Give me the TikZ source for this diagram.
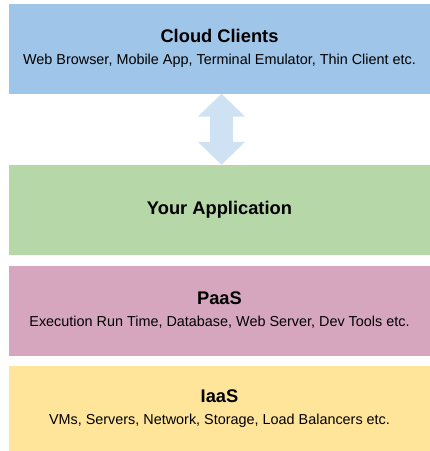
\documentclass[tikz,border=0pt]{standalone}
\usepackage{fontspec}
\setmainfont{Liberation Sans}
\usepackage{xcolor}
\usepackage{tikz}
\usetikzlibrary{arrows.meta}

\definecolor{clientblue}{HTML}{9FC5E8}
\definecolor{arrowblue}{HTML}{CFE2F3}
\definecolor{appgreen}{HTML}{B6D7A8}
\definecolor{paaspink}{HTML}{D5A6BD}
\definecolor{iaasyellow}{HTML}{FFE599}

\newcommand{\layertitle}[1]{{\bfseries\fontsize{18.3}{22}\selectfont #1}}

\begin{document}
\begin{tikzpicture}[x=1pt, y=-1pt,
  layer/.style={draw=none, align=center, minimum width=421pt, minimum height=90pt, inner sep=0pt, font=\fontsize{14.4}{22}\selectfont},
  updown/.style={arrowblue, line width=23pt, {Triangle[width=46pt,length=23pt]}-{Triangle[width=46pt,length=23pt]}}
]
  \useasboundingbox (0,0) rectangle (430,451);
  \node[layer, fill=clientblue] (cloud) at (219.5,48.5) {\layertitle{Cloud Clients}\\ Web Browser, Mobile App, Terminal Emulator, Thin Client etc.};
  \node[layer, fill=appgreen] (app) at (219.5,210) {\layertitle{Your Application}};
  \node[layer, fill=paaspink] (paas) at (219.5,310.5) {\layertitle{PaaS}\\ Execution Run Time, Database, Web Server, Dev Tools etc.};
  \node[layer, fill=iaasyellow, minimum height=86pt] (iaas) at (219.5,408.5) {\layertitle{IaaS}\\ VMs, Servers, Network, Storage, Load Balancers etc.};
  \draw[updown] ([xshift=2pt]cloud.south) -- ([xshift=2pt]app.north);
\end{tikzpicture}
\end{document}
